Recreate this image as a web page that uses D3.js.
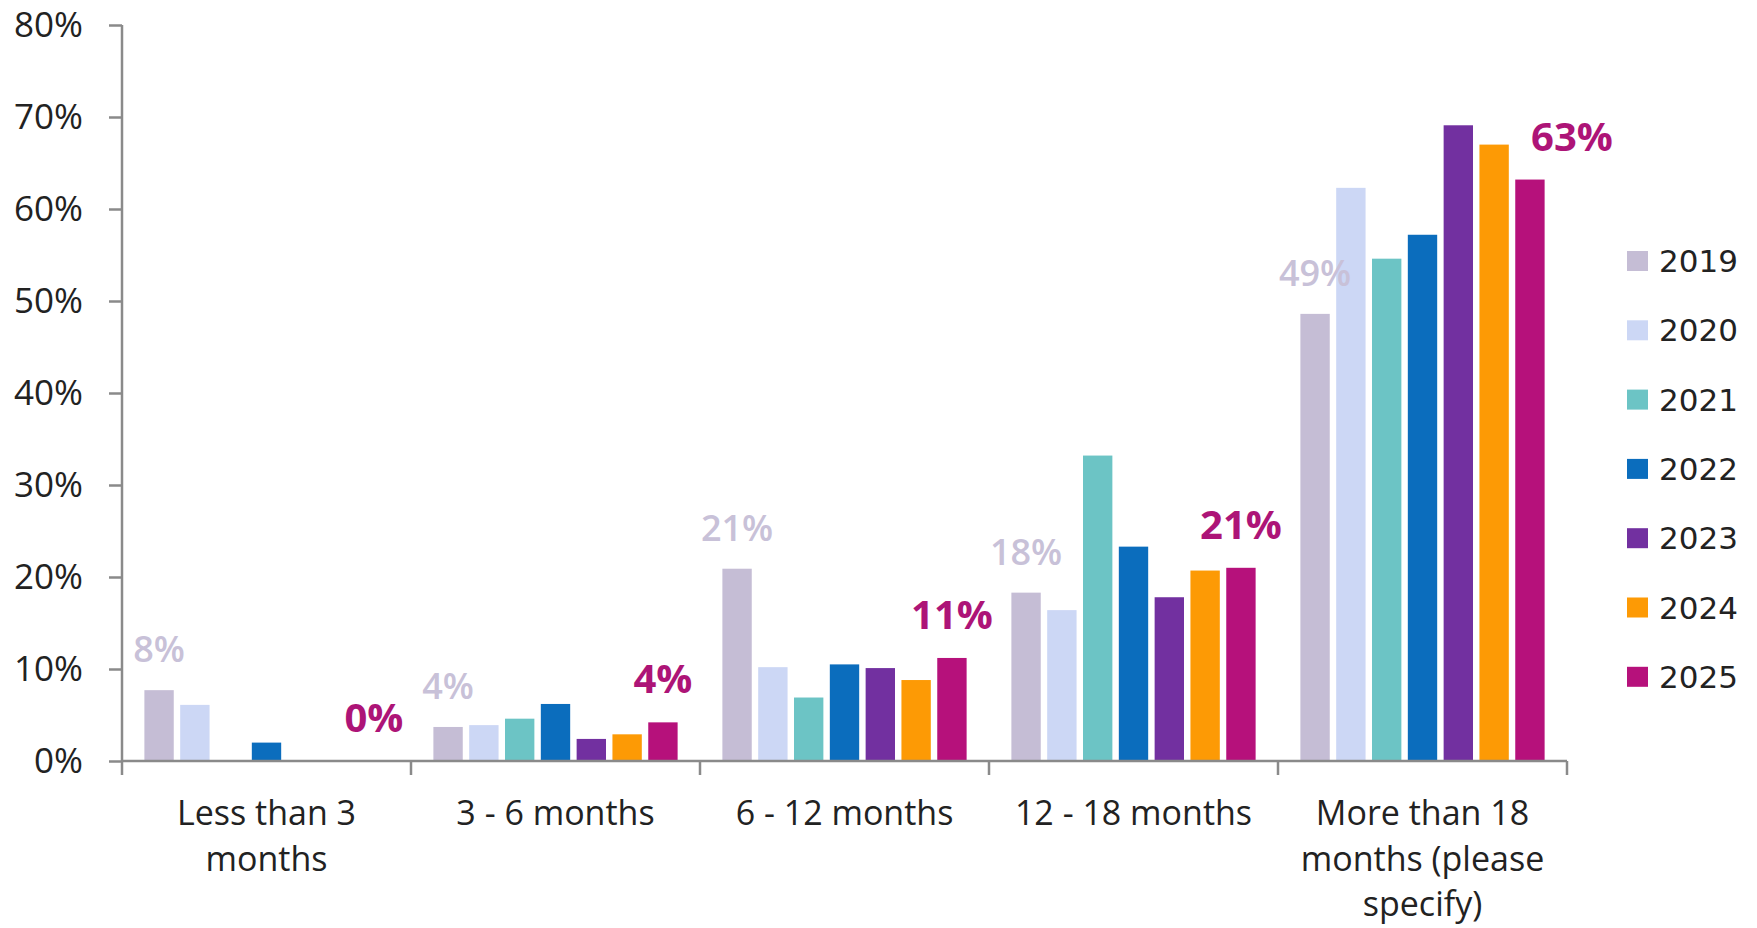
<!DOCTYPE html>
<html>
<head>
<meta charset="utf-8">
<script src="https://cdn.jsdelivr.net/npm/d3@7"></script>
<style>
  html, body { margin: 0; padding: 0; background: #fff; }
  svg { display: block; }
</style>
</head>
<body>
<svg id="chart" width="1757" height="928"></svg>
<script>
// ---------- data ----------
const categories = ["Less than 3 months", "3 - 6 months", "6 - 12 months", "12 - 18 months", "More than 18 months (please specify)"];
const years = ["2019", "2020", "2021", "2022", "2023", "2024", "2025"];
const v2019 = [7.7, 3.7, 20.9, 18.3, 48.6];
const v2020 = [6.1, 3.9, 10.2, 16.4, 62.3];
const v2021 = [0, 4.6, 6.9, 33.2, 54.6];
const v2022 = [2.0, 6.2, 10.5, 23.3, 57.2];
const v2023 = [0, 2.4, 10.1, 17.8, 69.1];
const v2024 = [0, 2.9, 8.8, 20.7, 67.0];
const v2025 = [0, 4.2, 11.2, 21.0, 63.2];
const yTicks = [0, 10, 20, 30, 40, 50, 60, 70, 80];
const colors = ["#c5bdd5", "#ccd7f5", "#6cc4c5", "#0b6dbd", "#7230a0", "#fd9a05", "#b6117b"];
const labelledYears = ["2019", "2025"];
const labelColors = ["#c8c1d8", "#ad1477"];

const seriesValues = [v2019, v2020, v2021, v2022, v2023, v2024, v2025];

// ---------- layout ----------
const svg = d3.select("#chart");
const plotLeft = 122, plotRight = 1567, plotTop = 25, plotBottom = 761;

const x0 = d3.scaleBand().domain(categories).range([plotLeft, plotRight]).padding(0);
const x1 = d3.scaleBand().domain(years).range([0, x0.bandwidth()]).paddingInner(0.18).paddingOuter(0.625);
const y = d3.scaleLinear().domain([0, 80]).range([plotBottom, plotTop]);
const color = d3.scaleOrdinal().domain(years).range(colors);

const axisColor = "#8a8a8a";
const textColor = "#222";

// bars
const groups = svg.append("g").selectAll("g")
  .data(categories)
  .join("g")
  .attr("transform", d => `translate(${x0(d)},0)`);

groups.selectAll("rect")
  .data((c, ci) => years.map((yr, si) => ({ cat: c, ci, year: yr, si, value: seriesValues[si][ci] })))
  .join("rect")
  .attr("x", d => x1(d.year))
  .attr("width", x1.bandwidth())
  .attr("y", d => y(d.value))
  .attr("height", d => y(0) - y(d.value))
  .attr("fill", d => color(d.year));

// y axis
const yAxis = d3.axisLeft(y)
  .tickValues(yTicks)
  .tickFormat(d => d + "%")
  .tickSize(13)
  .tickPadding(26);

const gy = svg.append("g").attr("transform", `translate(${plotLeft},0)`).call(yAxis);
gy.select(".domain").remove();
gy.selectAll(".tick line").attr("stroke", axisColor).attr("stroke-width", 2.5);
gy.selectAll(".tick text")
  .attr("fill", textColor)
  .style("font-family", "'Open Sans', sans-serif")
  .style("font-size", "35px");

// y axis vertical line (extends below baseline to x tick length)
svg.append("line")
  .attr("x1", plotLeft).attr("x2", plotLeft)
  .attr("y1", y(80)).attr("y2", plotBottom + 14)
  .attr("stroke", axisColor).attr("stroke-width", 2.5);

// x axis baseline
svg.append("line")
  .attr("x1", plotLeft).attr("x2", plotRight)
  .attr("y1", y(0)).attr("y2", y(0))
  .attr("stroke", axisColor).attr("stroke-width", 2.5);

// x boundary ticks
const boundaries = categories.map(c => x0(c)).concat([x0(categories[categories.length - 1]) + x0.bandwidth()]);
svg.append("g").selectAll("line")
  .data(boundaries.slice(1))
  .join("line")
  .attr("x1", d => d).attr("x2", d => d)
  .attr("y1", y(0)).attr("y2", y(0) + 14)
  .attr("stroke", axisColor).attr("stroke-width", 2.5);

// category labels (wrapped)
const catG = svg.append("g")
  .style("font-family", "'Open Sans', sans-serif")
  .style("font-size", "34px")
  .attr("fill", textColor)
  .attr("text-anchor", "middle");

const wrapWidth = 270;
const firstBaseline = 825, lineStep = 45.5;
categories.forEach(c => {
  const cx = x0(c) + x0.bandwidth() / 2;
  const t = catG.append("text").attr("x", cx).attr("y", firstBaseline);
  const words = c.split(" ");
  let line = [];
  let lineNo = 0;
  let tspan = t.append("tspan").attr("x", cx).attr("y", firstBaseline);
  words.forEach(w => {
    line.push(w);
    tspan.text(line.join(" "));
    if (tspan.node().getComputedTextLength() > wrapWidth && line.length > 1) {
      line.pop();
      tspan.text(line.join(" "));
      line = [w];
      lineNo++;
      tspan = t.append("tspan").attr("x", cx).attr("y", firstBaseline + lineNo * lineStep).text(w);
    }
  });
});

// value labels for highlighted series
labelledYears.forEach((yr, li) => {
  const si = years.indexOf(yr);
  const vals = seriesValues[si];
  const isLast = li === labelledYears.length - 1;
  const g = svg.append("g")
    .style("font-family", "'Open Sans', sans-serif")
    .style("font-size", isLast ? "40px" : "36px")
    .style("font-weight", isLast ? "700" : "600")
    .attr("fill", labelColors[li])
    .attr("text-anchor", "middle");
  categories.forEach((c, ci) => {
    const bx = x0(c) + x1(yr) + x1.bandwidth() / 2;
    const gap = isLast ? 29 : 28;
    const baseline = y(vals[ci]) - gap;
    let dx = 0;
    // avoid collision with a taller neighbouring bar on the left
    if (isLast && si > 0) {
      const prevTop = y(seriesValues[si - 1][ci]);
      if (prevTop < baseline) dx = 42;
    }
    g.append("text")
      .attr("x", bx + dx)
      .attr("y", baseline)
      .text(Math.round(vals[ci]) + "%");
  });
});

// legend
const legend = svg.append("g").attr("transform", "translate(1627,261)");
const legendItems = legend.selectAll("g").data(years).join("g")
  .attr("transform", (d, i) => `translate(0,${i * 69.3})`);
legendItems.append("rect")
  .attr("x", 0).attr("y", -10)
  .attr("width", 21).attr("height", 20)
  .attr("fill", d => color(d));
legendItems.append("text")
  .attr("x", 32).attr("y", 0)
  .attr("dy", "0.36em")
  .attr("fill", textColor)
  .style("font-family", "'DejaVu Sans', sans-serif")
  .style("font-size", "31px")
  .text(d => d);
</script>
</body>
</html>
